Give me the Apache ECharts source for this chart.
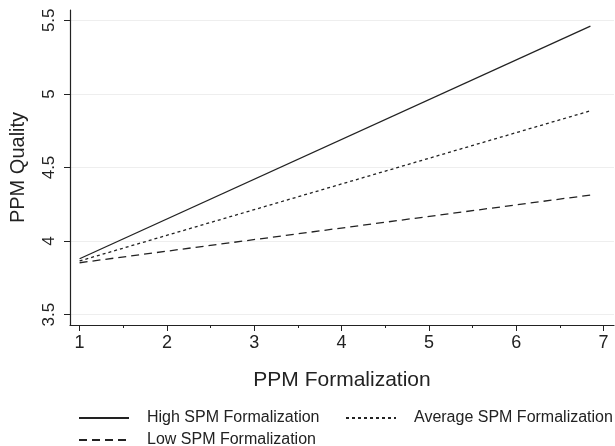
<!DOCTYPE html>
<html>
<head>
<meta charset="utf-8">
<script src="https://cdn.jsdelivr.net/npm/echarts@6/dist/echarts.min.js"></script>
<style>
  html, body { margin: 0; padding: 0; background: #fff; }
  #chart { width: 615px; height: 446px; }
</style>
</head>
<body>
<div id="chart"></div>
<script>
// endpoints of the fitted lines (PPM Formalization)
var xVals = [1, 6.85];
var highSpm = [3.88, 5.46];
var avgSpm = [3.865, 4.885];
var lowSpm = [3.853, 4.313];

var yTicks = [3.5, 4, 4.5, 5, 5.5];
var xTicks = [1, 2, 3, 4, 5, 6, 7];
var xMinor = [1.5, 2.5, 3.5, 4.5, 5.5, 6.5];

function pairs(ys) {
    return xVals.map(function (x, i) { return [x, ys[i]]; });
}

document.addEventListener('DOMContentLoaded', function () {
    var chartDom = document.getElementById('chart');
    var myChart = echarts.init(chartDom);
    var ink = '#222';
    var font = 'Liberation Sans';

    // one legend box per item so they sit like the two-column key
    function legendBox(name, left, top) {
        return {
            data: [name],
            left: left,
            top: top,
            width: 320,
            itemWidth: 50,
            itemHeight: 12,
            itemStyle: { opacity: 0 },
            textStyle: { fontSize: 16, color: ink, fontFamily: font, padding: [0, 0, 0, 13] }
        };
    }

    var option = {
        animation: false,
        textStyle: { fontFamily: font, color: ink },
        grid: { left: 68, right: 1, top: 10, bottom: 121, containLabel: false },
        xAxis: [{
            type: 'value',
            min: 0.89,
            max: 7.12,
            name: 'PPM Formalization',
            nameLocation: 'middle',
            nameGap: 45,
            nameTextStyle: { fontSize: 21, color: ink, fontFamily: font },
            axisLine: { lineStyle: { color: ink, width: 1.2 } },
            axisTick: { customValues: xTicks, length: 6, lineStyle: { color: ink } },
            axisLabel: { customValues: xTicks, fontSize: 18, color: ink, margin: 9 },
            splitLine: { show: false }
        }, {
            type: 'value',
            position: 'bottom',
            min: 0.89,
            max: 7.12,
            axisLine: { show: false },
            axisTick: { customValues: xMinor, length: 3, lineStyle: { color: ink } },
            axisLabel: { show: false },
            splitLine: { show: false }
        }],
        yAxis: {
            type: 'value',
            min: 3.43,
            max: 5.57,
            name: 'PPM Quality',
            nameLocation: 'middle',
            nameGap: 42,
            nameTextStyle: { fontSize: 20, color: ink, fontFamily: font },
            axisLine: { show: true, lineStyle: { color: ink, width: 1.2 } },
            axisTick: { show: true, customValues: yTicks, length: 6, lineStyle: { color: ink } },
            axisLabel: {
                customValues: yTicks,
                rotate: 90,
                fontSize: 17,
                color: ink,
                margin: 12
            },
            splitLine: { show: true, lineStyle: { color: '#eeeeee', width: 1.2 } }
        },
        legend: [
            legendBox('High SPM Formalization', 73, 405),
            legendBox('Average SPM Formalization', 340, 405),
            legendBox('Low SPM Formalization', 73, 427)
        ],
        series: [{
            name: 'High SPM Formalization',
            type: 'line',
            data: pairs(highSpm),
            symbol: 'none',
            lineStyle: { color: ink, width: 1.3, type: 'solid' },
            itemStyle: { color: ink }
        }, {
            name: 'Average SPM Formalization',
            type: 'line',
            data: pairs(avgSpm),
            symbol: 'none',
            lineStyle: { color: ink, width: 1.3, type: [3, 3] },
            itemStyle: { color: ink }
        }, {
            name: 'Low SPM Formalization',
            type: 'line',
            data: pairs(lowSpm),
            symbol: 'none',
            lineStyle: { color: ink, width: 1.3, type: [8, 5] },
            itemStyle: { color: ink }
        }]
    };

    option && myChart.setOption(option);
});
</script>
</body>
</html>
